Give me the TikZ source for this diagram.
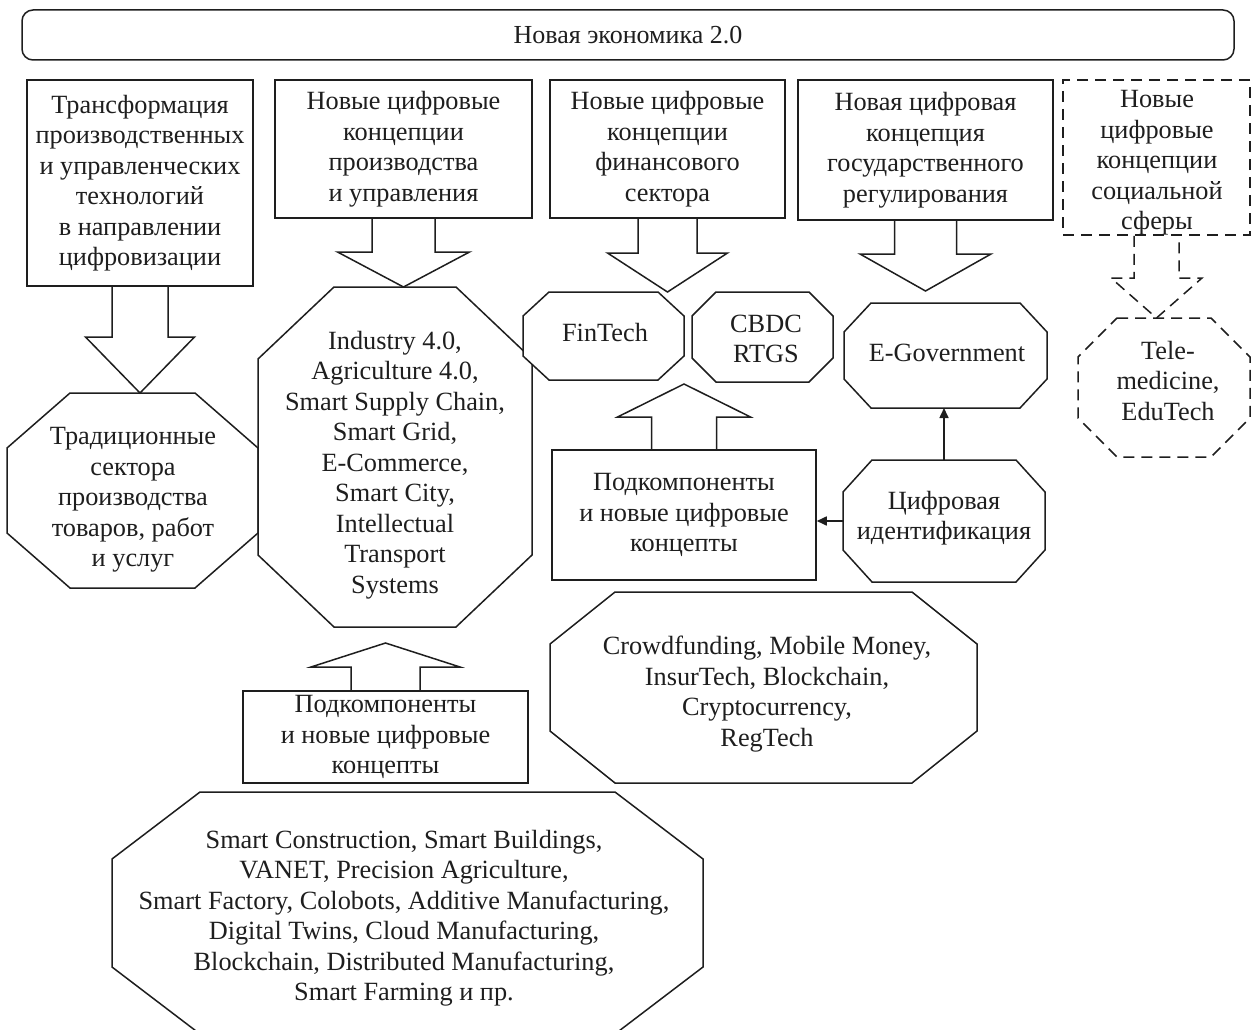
\documentclass[tikz,border=0pt]{standalone}
\usepackage{fontspec}
\setmainfont{Liberation Serif}
\usetikzlibrary{arrows.meta,calc}
\definecolor{ink}{HTML}{1E1E1E}
\tikzset{
  ln/.style={draw=ink, line width=1.5pt, line join=miter},
  boxn/.style={ln, rectangle, inner sep=0pt, align=center, fill=white, text=ink},
  shp/.style={rectangle, inner sep=0pt, outer sep=0pt},
  txt/.style={align=center, inner sep=0pt, text=ink},
  dsh/.style={dash pattern=on 11pt off 7pt},
  thinarr/.style={draw=ink, line width=1.6pt, -{Triangle[length=10pt,width=9pt]}},
}
% octagon drawn on the frame of a named node: [style]{node}{cut x}{cut y}
\newcommand\octfrom[4][]{%
  \draw[ln,fill=white,#1] ([xshift=#3pt]#2.north west) -- ([xshift=-#3pt]#2.north east)
    -- ([yshift=-#4pt]#2.north east) -- ([yshift=#4pt]#2.south east)
    -- ([xshift=-#3pt]#2.south east) -- ([xshift=#3pt]#2.south west)
    -- ([yshift=#4pt]#2.south west) -- ([yshift=-#4pt]#2.north west) -- cycle;}
% block arrow: [style]{base}{tip}{shaft half}{head half}{head base offset from tip}
\newcommand\blockarr[6][]{%
  \draw[ln,#1] let \p1=(#2), \p2=(#3) in
    ({\x1-#4pt},{\y1}) -- ({\x1-#4pt},{\y2+(#6pt)}) -- ({\x1-#5pt},{\y2+(#6pt)})
    -- ({\x1},{\y2}) -- ({\x1+#5pt},{\y2+(#6pt)}) -- ({\x1+#4pt},{\y2+(#6pt)})
    -- ({\x1+#4pt},{\y1});}
\begin{document}
\begin{tikzpicture}[x=1pt,y=-1pt,font=\fontsize{26.3}{30.5}\selectfont]
\useasboundingbox (0,0) rectangle (1258,1030);

% top bar
\node[boxn, rounded corners=11pt, minimum width=1212pt, minimum height=50pt,
      font=\fontsize{26}{30}\selectfont] (top) at (628,35) {Новая экономика 2.0};

% top boxes
\node[boxn, minimum width=226pt, minimum height=206pt] (b1) at (140,183)
  {Трансформация\\производственных\\и управленческих\\технологий\\в направлении\\цифровизации};
\node[boxn, minimum width=257pt, minimum height=138pt] (b2) at (403.5,149)
  {Новые цифровые\\концепции\\производства\\и управления};
\node[boxn, minimum width=235pt, minimum height=138pt] (b3) at (667.5,149)
  {Новые цифровые\\концепции\\финансового\\сектора};
\node[boxn, minimum width=255pt, minimum height=140pt] (b4) at (925.5,150)
  {Новая цифровая\\концепция\\государственного\\регулирования};
\node[boxn, dsh, minimum width=187pt, minimum height=155pt] (b5) at (1156.5,157.5) {};
\node[txt] (b5-t) at (1157,163) {Новые\\цифровые\\концепции\\социальной\\сферы};

% octagons
\node[shp, minimum width=251pt, minimum height=195pt] (trad) at (132.5,490.5) {};
\octfrom{trad}{63}{55}
\node[txt] (trad-t) at (133,500) {Традиционные\\сектора\\производства\\товаров, работ\\и услуг};

\node[shp, minimum width=274pt, minimum height=340pt] (ind) at (395,457) {};
\octfrom{ind}{76}{72}
\node[txt] (ind-t) at (395,465)
  {Industry 4.0,\\Agriculture 4.0,\\Smart Supply Chain,\\Smart Grid,\\E-Commerce,\\Smart City,\\Intellectual\\Transport\\Systems};

\node[shp, minimum width=161pt, minimum height=88pt] (fin) at (603.5,336) {};
\octfrom{fin}{26}{24}
\node[txt] (fin-t) at (605,333) {FinTech};

\node[shp, minimum width=141pt, minimum height=90pt] (cbdc) at (762.5,337) {};
\octfrom{cbdc}{24}{24}
\node[txt] (cbdc-t) at (766,339) {CBDC\\RTGS};

\node[shp, minimum width=203pt, minimum height=105pt] (egov) at (945.5,355.5) {};
\octfrom{egov}{27}{29}
\node[txt] (egov-t) at (947,353) {E-Government};

\node[shp, minimum width=202pt, minimum height=122pt] (digid) at (944,521) {};
\octfrom{digid}{29}{32}
\node[txt] (digid-t) at (944,518) {Цифровая\\идентификация};

\node[shp, minimum width=172pt, minimum height=139pt] (tele) at (1164,387.5) {};
\octfrom[dsh]{tele}{39}{39}
\node[txt] (tele-t) at (1168,381) {Tele-\\medicine,\\EduTech};

\node[shp, minimum width=427pt, minimum height=191pt] (crowd) at (763.5,687.5) {};
\octfrom{crowd}{65}{52}
\node[txt] (crowd-t) at (767,694) {Crowdfunding, Mobile Money,\\InsurTech, Blockchain,\\Cryptocurrency,\\RegTech};

\begin{scope}
\clip (0,0) rectangle (1258,1030);
\node[shp, minimum width=591pt, minimum height=242pt] (big) at (407.5,913) {};
\octfrom{big}{88}{67}
\end{scope}
\node[txt] (big-t) at (404,918)
  {Smart Construction, Smart Buildings,\\VANET, Precision Agriculture,\\Smart Factory, Colobots, Additive Manufacturing,\\Digital Twins, Cloud Manufacturing,\\Blockchain, Distributed Manufacturing,\\Smart Farming и пр.};

% sub-component boxes
\node[boxn, minimum width=264pt, minimum height=130pt] (subfin) at (684,515)
  {Подкомпоненты\\и новые цифровые\\концепты};
\node[boxn, minimum width=285pt, minimum height=92pt] (subind) at (385.5,737)
  {Подкомпоненты\\и новые цифровые\\концепты};

% block arrows
\blockarr{b1.south}{trad.north}{28}{54.5}{56}
\blockarr{b2.south}{ind.north}{31.5}{66}{35}
\blockarr{b3.south}{fin.north}{29.5}{60}{39}
\blockarr{b4.south}{$(egov.north)+(0,-12)$}{31}{65.5}{37}
\blockarr[dsh]{b5.south}{tele.north}{22.5}{45.5}{40}
\blockarr{subfin.north}{$(fin.south)+(0,4)$}{32.5}{66.5}{-33}
\blockarr{subind.north}{$(ind.south)+(0,16)$}{34.5}{74.5}{-24}

% thin arrows
\draw[thinarr] (digid.north) -- (digid.north |- egov.south);
\draw[thinarr] (digid.west) -- (digid.west -| subfin.east);
\end{tikzpicture}
\end{document}
